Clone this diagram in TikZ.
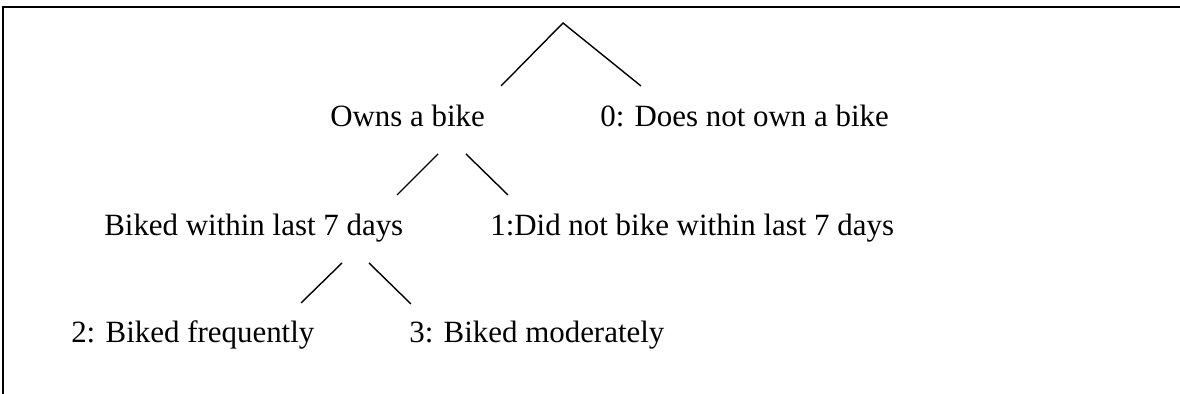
\documentclass[tikz,border=0pt]{standalone}
\usepackage{fontspec}
\setmainfont{Liberation Serif}
\begin{document}
\begin{tikzpicture}[
    bike_label/.style={shape=rectangle,inner sep=0pt,anchor=base west,font=\fontsize{22}{26}\selectfont},
    bike_branch/.style={line width=1pt}]
    \useasboundingbox (0,0) rectangle (29.5,9.85);
    \draw[line width=1.4pt] (0.075,0) to (0.075,9.675) to (29.5,9.675);
    \node[bike_label] (owns) at (8.25,6.675) {Owns a bike};
    \node[bike_label] (noown) at (15.0,6.675) {0: Does not own a bike};
    \node[bike_label] (within) at (2.6,3.95) {Biked within last 7 days};
    \node[bike_label] (notwithin) at (12.25,3.95) {1:Did not bike within last 7 days};
    \node[bike_label] (freq) at (1.775,1.275) {2: Biked frequently};
    \node[bike_label] (moder) at (10.225,1.275) {3: Biked moderately};
    \coordinate (top) at (14.075,9.275);
    \coordinate (top_l) at (12.525,7.7);
    \coordinate (top_r) at (16.025,7.7);
    \coordinate (owns_a) at (10.95,6.0);
    \coordinate (owns_l) at (9.925,4.975);
    \coordinate (owns_b) at (11.65,6.0);
    \coordinate (owns_r) at (12.7,4.975);
    \coordinate (within_a) at (8.55,3.275);
    \coordinate (within_l) at (7.525,2.275);
    \coordinate (within_b) at (9.225,3.275);
    \coordinate (within_r) at (10.275,2.25);
    \draw[bike_branch] (top_l) to (top) to (top_r);
    \draw[bike_branch] (owns_a) to (owns_l);
    \draw[bike_branch] (owns_b) to (owns_r);
    \draw[bike_branch] (within_a) to (within_l);
    \draw[bike_branch] (within_b) to (within_r);
\end{tikzpicture}
\end{document}
